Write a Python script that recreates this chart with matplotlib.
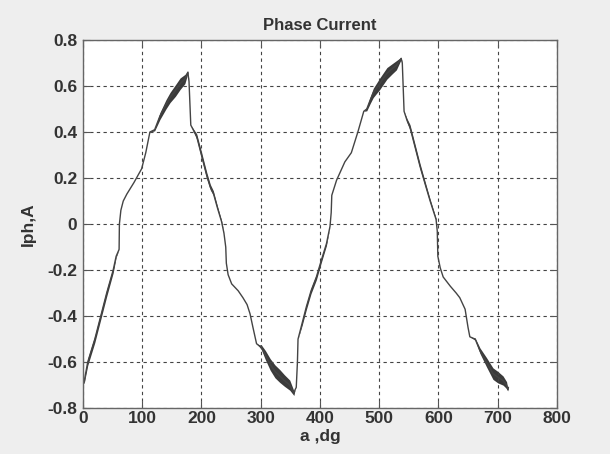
import numpy as np
import matplotlib
matplotlib.use("Agg")
import matplotlib.pyplot as plt

# phase current vs rotor angle
angle = [2, 3, 8, 20, 30, 40, 51, 56, 61, 61.5, 64, 68, 74, 86, 99, 106, 113,
         121, 130, 140, 147, 156, 164, 172, 177, 179, 182, 186, 192, 200, 209,
         215, 220, 227, 234, 238, 241, 242, 245, 251, 262, 270, 277, 282, 287,
         293, 298, 301, 308, 316, 324, 332, 340, 349, 356, 358, 360, 362, 363,
         370, 377, 385, 394, 402, 411, 417, 419, 420, 428, 442, 453, 464, 474,
         479, 485, 490, 501, 513, 522, 529, 537, 539, 542, 547, 552, 560, 569,
         578, 586, 596, 598, 599, 603, 608, 620, 630, 636, 645, 650, 653, 662,
         670, 681, 692, 700, 709, 715, 717, 718]
current = [-0.69, -0.67, -0.60, -0.50, -0.40, -0.30, -0.20, -0.14, -0.11, 0.00,
           0.06, 0.10, 0.13, 0.18, 0.24, 0.31, 0.40,
           0.41, 0.47, 0.52, 0.55, 0.58, 0.61, 0.63, 0.66, 0.62, 0.43, 0.41,
           0.38, 0.30, 0.21,
           0.16, 0.135, 0.07, 0.01, -0.04, -0.10, -0.17, -0.22, -0.26, -0.29,
           -0.32, -0.35, -0.39, -0.45,
           -0.52, -0.53, -0.535, -0.57, -0.61, -0.64, -0.66, -0.68, -0.70,
           -0.735, -0.72, -0.71, -0.60, -0.50,
           -0.43, -0.36, -0.29, -0.23, -0.16, -0.085, -0.01, 0.05, 0.125, 0.19,
           0.27, 0.31, 0.40, 0.49,
           0.50, 0.54, 0.57, 0.61, 0.655, 0.675, 0.69, 0.72, 0.70, 0.49, 0.45,
           0.42, 0.34, 0.25,
           0.17, 0.10, 0.02, -0.03, -0.14, -0.19, -0.23, -0.27, -0.30, -0.32,
           -0.37, -0.45, -0.49, -0.50,
           -0.55, -0.60, -0.65, -0.665, -0.68, -0.70, -0.72, -0.71]
# half-width of the chopping ripple band
ripple = [0.005, 0.01, 0.015, 0.015, 0.015, 0.015, 0.012, 0.005, 0, 0,
          0, 0, 0, 0, 0, 0, 0,
          0.005, 0.015, 0.02, 0.022, 0.025, 0.025, 0.02, 0.005, 0, 0, 0.005,
          0.012, 0.014, 0.014,
          0.012, 0.01, 0.008, 0.005, 0, 0, 0, 0, 0, 0,
          0, 0, 0, 0,
          0, 0.005, 0.01, 0.02, 0.025, 0.028, 0.028, 0.025, 0.022,
          0.01, 0, 0, 0, 0,
          0.01, 0.012, 0.012, 0.012, 0.01, 0.008, 0, 0, 0, 0,
          0, 0, 0, 0,
          0.008, 0.015, 0.02, 0.025, 0.025, 0.022, 0.02, 0.005, 0, 0, 0.008,
          0.012, 0.012, 0.012,
          0.01, 0.008, 0.005, 0, 0, 0, 0, 0, 0, 0,
          0, 0, 0, 0.005,
          0.012, 0.02, 0.025, 0.025, 0.02, 0.015, 0.005, 0]

xticks = [0, 100, 200, 300, 400, 500, 600, 700, 800]
yticks = [-0.8, -0.6, -0.4, -0.2, 0, 0.2, 0.4, 0.6, 0.8]
ytick_labels = ["-0.8", "-0.6", "-0.4", "-0.2", "0", "0.2", "0.4", "0.6", "0.8"]

plt.rcParams['font.family'] = ['Liberation Sans', 'DejaVu Sans']

fig = plt.figure(figsize=(6.1, 4.54), dpi=100, facecolor="#eeeeee")
ax = fig.add_axes([0.136, 0.101, 0.777, 0.811])

a = np.array(angle)
c = np.array(current)
r = np.array(ripple)
ax.fill_between(a, c - r, c + r, color="#3a3a3a", lw=0)
ax.plot(a, c, color="#444444", lw=1.0)

ax.set_xlim(0, 800)
ax.set_ylim(-0.8, 0.8)
ax.set_xticks(xticks)
ax.set_yticks(yticks)
ax.set_yticklabels(ytick_labels)
ax.grid(True, linestyle=(0, (3, 3)), color="#444444", lw=0.8)
ax.tick_params(direction="in", top=True, right=True, length=5, color="#555555",
               labelsize=12.5, labelcolor="#333333")
ax.tick_params(axis="x", pad=2)
ax.tick_params(axis="y", pad=4)
for lbl in ax.get_xticklabels() + ax.get_yticklabels():
    lbl.set_fontweight("bold")
for s in ax.spines.values():
    s.set_color("#666666")
    s.set_linewidth(1.0)

ax.set_title("Phase Current", fontsize=12, color="#333333", fontweight="bold", pad=7)
ax.set_xlabel("a ,dg", fontsize=12.5, color="#333333", fontweight="bold", labelpad=2)
ax.set_ylabel("Iph,A", fontsize=12.5, color="#333333", fontweight="bold", labelpad=8)

fig.savefig("out.png", dpi=100, facecolor=fig.get_facecolor())
